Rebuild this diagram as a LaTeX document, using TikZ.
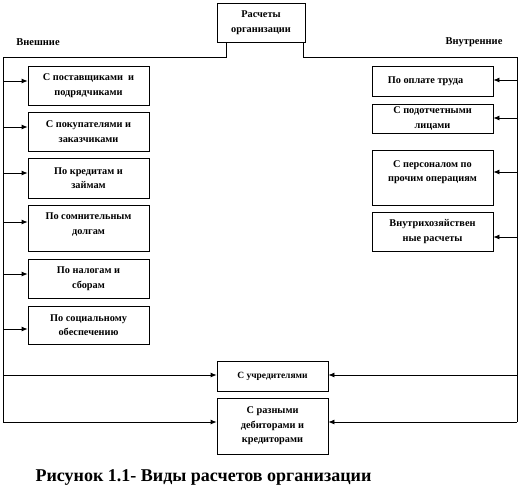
\documentclass[tikz,border=0pt]{standalone}
\usepackage{fontspec}
\setmainfont{Liberation Serif}
\usetikzlibrary{arrows.meta}
\tikzset{
  box/.style={draw, line width=0.8pt, inner sep=1pt, align=center,
    font=\bfseries\fontsize{10.3}{14.5}\selectfont},
  lbl/.style={inner sep=0pt, font=\bfseries\fontsize{10.5}{12}\selectfont},
  line/.style={line width=0.8pt},
  arr/.style={line width=0.8pt, -{Latex[length=6pt,width=5pt]}},
}
\begin{document}
\begin{tikzpicture}[x=1pt,y=-1pt]
\useasboundingbox (0,0) rectangle (521,498);
% top
\node[box, minimum width=88pt, minimum height=39pt] (top) at (261,22.5) {Расчеты\\организации};
\node[lbl] (ext) at (38,42) {Внешние};
\node[lbl] (int) at (474,42) {Внутренние};
% left boxes
\node[box, minimum width=121pt, minimum height=39pt] (l1) at (88.5,85.5) {С поставщиками \ и\\подрядчиками};
\node[box, minimum width=121pt, minimum height=39pt] (l2) at (88.5,131.5) {С покупателями и\\заказчиками};
\node[box, minimum width=121pt, minimum height=40pt] (l3) at (88.5,178) {По кредитам и\\займам};
\node[box, minimum width=121pt, minimum height=46pt] (l4) at (88.5,228) {По сомнительным\\долгам\\[-6pt]\mbox{}};
\node[box, minimum width=121pt, minimum height=39pt] (l5) at (88.5,278.5) {По налогам и\\сборам};
\node[box, minimum width=121pt, minimum height=38pt] (l6) at (88.5,325) {По социальному\\обеспечению};
% right boxes
\node[box, minimum width=121pt, minimum height=30pt] (r1) at (432.5,81) {По оплате труда\hspace{14pt}};
\node[box, minimum width=121pt, minimum height=29pt] (r2) at (432.5,118.5) {С подотчетными\\лицами};
\node[box, minimum width=121pt, minimum height=55pt] (r3) at (432.5,177.5) {С персоналом по\\прочим операциям\\[-2pt]\mbox{}};
\node[box, minimum width=121pt, minimum height=39pt] (r4) at (432.5,231.5) {Внутрихозяйствен\\ные расчеты};
% bottom boxes
\node[box, minimum width=111pt, minimum height=30pt, font=\bfseries\fontsize{9.5}{12}\selectfont] (b1) at (272.5,376) {С учредителями};
\node[box, minimum width=111pt, minimum height=56pt] (b2) at (272.5,426) {С разными\\дебиторами и\\кредиторами};
% caption
\node[inner sep=0pt, font=\bfseries\fontsize{18}{20}\selectfont] (cap) at (203.5,477) {Рисунок 1.1- Виды расчетов организации};
% trunk lines
\coordinate (tl) at (3,57);
\coordinate (bl) at (3,422);
\coordinate (tr) at (517,57);
\coordinate (br) at (517,422);
\draw[line] ([xshift=10pt]top.south west) |- (tl) -- (bl);
\draw[line] ([xshift=-2pt]top.south east) |- (tr) -- (br);
% left arrows
\coordinate (la1) at (3,81);
\coordinate (la2) at (3,127);
\coordinate (la3) at (3,173);
\coordinate (la4) at (3,222);
\coordinate (la5) at (3,274);
\coordinate (la6) at (3,329);
\coordinate (la7) at (3,375);
\draw[arr] (la1) -- (la1 -| l1.west);
\draw[arr] (la2) -- (la2 -| l2.west);
\draw[arr] (la3) -- (la3 -| l3.west);
\draw[arr] (la4) -- (la4 -| l4.west);
\draw[arr] (la5) -- (la5 -| l5.west);
\draw[arr] (la6) -- (la6 -| l6.west);
\draw[arr] (la7) -- (la7 -| b1.west);
\draw[arr] (bl) -- (bl -| b2.west);
% right arrows
\coordinate (ra1) at (517,80);
\coordinate (ra2) at (517,118);
\coordinate (ra3) at (517,172);
\coordinate (ra4) at (517,237);
\coordinate (ra5) at (517,375);
\draw[arr] (ra1) -- (ra1 -| r1.east);
\draw[arr] (ra2) -- (ra2 -| r2.east);
\draw[arr] (ra3) -- (ra3 -| r3.east);
\draw[arr] (ra4) -- (ra4 -| r4.east);
\draw[arr] (ra5) -- (ra5 -| b1.east);
\draw[arr] (br) -- (br -| b2.east);
\end{tikzpicture}
\end{document}
